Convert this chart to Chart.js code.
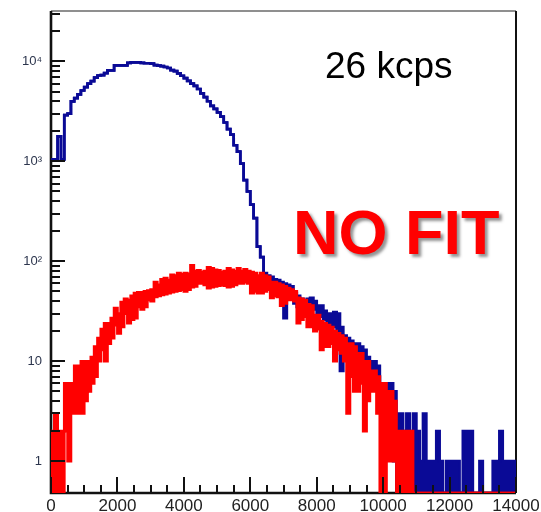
<!DOCTYPE html>
<html><head><meta charset="utf-8">
<script src="https://cdn.jsdelivr.net/npm/chart.js@4.4.1/dist/chart.umd.min.js"></script>
<style>html,body{margin:0;padding:0;background:#fff;overflow:hidden}</style>
</head><body>
<canvas id="c" width="541" height="512"></canvas>
<script>
// ---- data (histogram bins of width 100, from 0 to 14000) ----
const binWidth = 100;
const xMin = 0, xMax = 14000;
const yMin = 0.48, yMax = 32000;

// blue spectrum: upper and lower envelope of each bin
const blueHi = [1050,1050,1780,1050,2900,3000,3980,4300,4680,5120,
  5530,6000,6370,6900,7240,7300,7640,8130,8130,9120,
  9120,9120,9120,9700,9800,9800,9800,9700,9600,9600,
  9500,9200,9100,9000,8800,8600,8200,8000,7600,7200,
  6800,6400,6000,5700,5300,4800,4400,4000,3600,3350,
  3100,2800,2450,2100,1850,1450,1250,950,650,500,
  370,270,140,110,76,72,70,66,65,62,
  60,58,56,48,45,42,40,42,43,40,
  36,36,32,30,30,31,30,22,18,17,
  16,15,15,14,13,11,10,10,9,6,
  6,6,6,5,3,3,2,3,2,3,
  2,1,3,1,1,1,2,1,0,1,
  1,1,1,0,2,2,2,0,0,1,
  0,0,0,1,1,2,1,1,1,1];
const blueLo = [1050,1050,1780,1050,2900,3000,3980,4300,4680,5120,
  5530,6000,6370,6900,7240,7300,7640,8130,8130,9120,
  9120,9120,9120,9700,9800,9800,9800,9700,9600,9600,
  9500,9200,9100,9000,8800,8600,8200,8000,7600,7200,
  6800,6400,6000,5700,5300,4800,4400,4000,3600,3350,
  3100,2800,2450,2100,1850,1450,1250,950,650,500,
  370,270,140,110,70,62,62,60,60,58,
  27,51,50,38,35,35,32,34,34,33,
  30,28,26,22,22,22,20,8,12,11,
  11,10,10,10,9,8,8,7,7,5,
  5,5,3,1,0,0,0,0,0,0,
  0,0,0,0,0,0,0,0,0,0,
  0,0,0,0,0,0,0,0,0,0,
  0,0,0,0,0,0,0,0,0,0];

// red spectrum: upper and lower envelope of each bin
const redHi = [2,3,2,2,6,6,6,9,9,10,
  10,10,11,14,17,21,24,24,27,34,
  30,39,42,41,45,48,49,49,50,51,
  52,62,58,66,68,65,73,72,76,74,
  76,75,91,80,81,78,80,87,85,82,
  81,78,80,85,82,80,85,80,83,80,
  78,76,72,76,72,70,62,62,60,58,
  56,54,52,50,43,42,41,37,36,29,
  29,25,24,23,22,20,19,18,17,15,
  15,14,12,12,10,10,8,8,7,6,
  6,5,5,4,2,2,2,2,2,0,
  0,0,0,0,0,0,0,0,0,0,
  0,0,0,0,0,0,0,0,0,0,
  0,0,0,0,0,0,0,0,0,0];
const redLo = [0,0,0,0,2,1,3,3,3,3,
  4,5,6,7,10,13,10,15,17,23,
  19,22,30,24,26,27,35,33,35,41,
  40,44,45,46,47,48,49,50,51,52,
  50,52,55,56,60,60,58,54,55,56,
  57,58,57,55,56,58,60,60,62,60,
  48,50,48,48,50,52,43,45,44,36,
  38,41,41,40,24,26,28,22,22,20,
  21,13,14,14,15,10,13,12,10,3,
  7,5,5,6,2,4,5,5,3,0,
  0,1,1,1,0,0,0,0,0,0,
  0,0,0,0,0,0,0,0,0,0,
  0,0,0,0,0,0,0,0,0,0,
  0,0,0,0,0,0,0,0,0,0];

// axis ticks and labels
const xMajorTicks = [0,2000,4000,6000,8000,10000,12000,14000];
const xTickLabels = ['0','2000','4000','6000','8000','10000','12000','14000'];
const xMinorTicks = [500,1000,1500,2500,3000,3500,4500,5000,5500,6500,7000,7500,
  8500,9000,9500,10500,11000,11500,12500,13000,13500];
const yMajorTicks = [1,10,100,1000,10000];
const yTickLabels = ['1','10','10\u00B2','10\u00B3','10\u2074'];
const yMinorTicks = [2,3,4,5,6,7,8,9,20,30,40,50,60,70,80,90,
  200,300,400,500,600,700,800,900,2000,3000,4000,5000,6000,7000,8000,9000,20000,30000];

const rateText = '26 kcps';
const fitText = 'NO FIT';

// ---- build step series from the bins ----
function toSteps(arr) {
  const pts = arr.map((v, i) => ({x: xMin + i * binWidth, y: v > 0 ? v : yMin}));
  const last = arr[arr.length - 1];
  pts.push({x: xMin + arr.length * binWidth, y: last > 0 ? last : yMin});
  return pts;
}

const RED = '#ff0000';
const BLUE = '#0a0a96';

function lineDs(arr, color, fill) {
  return {
    data: toSteps(arr),
    stepped: true,
    borderColor: color,
    backgroundColor: color,
    borderWidth: 2.7,
    pointRadius: 0,
    fill: fill,
    borderJoinStyle: 'miter',
    borderCapStyle: 'butt'
  };
}

const decor = {
  id: 'decor',
  beforeDatasetsDraw(chart) {
    const {ctx, chartArea: a} = chart;
    ctx.save();
    ctx.strokeStyle = '#6a6a6a';
    ctx.lineWidth = 1.5;
    ctx.beginPath();
    ctx.moveTo(a.left, a.top); ctx.lineTo(a.right, a.top);
    ctx.stroke();
    ctx.strokeStyle = '#111';
    ctx.lineWidth = 2;
    ctx.beginPath();
    ctx.moveTo(a.right, a.top); ctx.lineTo(a.right, a.bottom);
    ctx.stroke();
    ctx.lineWidth = 2.6;
    ctx.beginPath();
    ctx.moveTo(a.left, a.top); ctx.lineTo(a.left, a.bottom); ctx.lineTo(a.right, a.bottom);
    ctx.stroke();
    ctx.restore();
  },
  afterDatasetsDraw(chart) {
    const {ctx, chartArea: a, scales} = chart;
    const xs = scales.x, ys = scales.y;
    ctx.save();
    ctx.strokeStyle = '#111';
    ctx.lineWidth = 2;
    ctx.beginPath();
    yMajorTicks.forEach(v => { const y = Math.round(ys.getPixelForValue(v)); ctx.moveTo(a.left, y); ctx.lineTo(a.left + 14, y); });
    yMinorTicks.forEach(v => { const y = Math.round(ys.getPixelForValue(v)); if (y > a.top + 1) { ctx.moveTo(a.left, y); ctx.lineTo(a.left + 9, y); } });
    xMajorTicks.forEach(v => { const x = Math.round(xs.getPixelForValue(v)); ctx.moveTo(x, a.bottom); ctx.lineTo(x, a.bottom - 16); });
    xMinorTicks.forEach(v => { const x = Math.round(xs.getPixelForValue(v)); ctx.moveTo(x, a.bottom); ctx.lineTo(x, a.bottom - 8); });
    ctx.stroke();

    ctx.fillStyle = '#000';
    ctx.font = '37px "Liberation Sans", Arial, sans-serif';
    ctx.textBaseline = 'alphabetic';
    ctx.textAlign = 'left';
    ctx.fillText(rateText, 325, 78);

    ctx.font = 'bold 63px "Liberation Sans", Arial, sans-serif';
    ctx.shadowColor = 'rgba(60,60,60,0.55)';
    ctx.shadowOffsetX = 3;
    ctx.shadowOffsetY = 3;
    ctx.shadowBlur = 3;
    ctx.fillStyle = RED;
    ctx.fillText(fitText, 293, 254);
    ctx.restore();
  }
};

new Chart(document.getElementById('c'), {
  type: 'line',
  data: {
    datasets: [
      lineDs(redHi, RED, '+1'),
      lineDs(redLo, RED, false),
      lineDs(blueHi, BLUE, '+1'),
      lineDs(blueLo, BLUE, false)
    ]
  },
  options: {
    responsive: false,
    animation: false,
    devicePixelRatio: 1,
    layout: {padding: {top: 11, right: 25, left: 0, bottom: 0}},
    plugins: {legend: {display: false}, tooltip: {enabled: false}},
    scales: {
      x: {
        type: 'linear', min: xMin, max: xMax,
        afterBuildTicks: s => { s.ticks = xMajorTicks.map(v => ({value: v})); },
        afterFit: s => { s.height = 19; s.paddingLeft = 0; s.paddingRight = 0; },
        grid: {display: false, drawTicks: false},
        border: {display: false},
        ticks: {
          autoSkip: false, maxRotation: 0, minRotation: 0, padding: 3,
          color: '#222', font: {family: '"Liberation Sans", Arial, sans-serif', size: 17},
          callback: (v, i) => xTickLabels[i]
        }
      },
      y: {
        type: 'logarithmic', min: yMin, max: yMax,
        afterBuildTicks: s => { s.ticks = yMajorTicks.map(v => ({value: v})); },
        afterFit: s => { s.width = 51; s.paddingTop = 0; s.paddingBottom = 0; },
        grid: {display: false, drawTicks: false},
        border: {display: false},
        ticks: {
          autoSkip: false, padding: 9,
          color: '#2c354d', font: {family: '"Liberation Sans", Arial, sans-serif', size: 13},
          callback: (v, i) => yTickLabels[i]
        }
      }
    }
  },
  plugins: [decor]
});
</script>
</body></html>
